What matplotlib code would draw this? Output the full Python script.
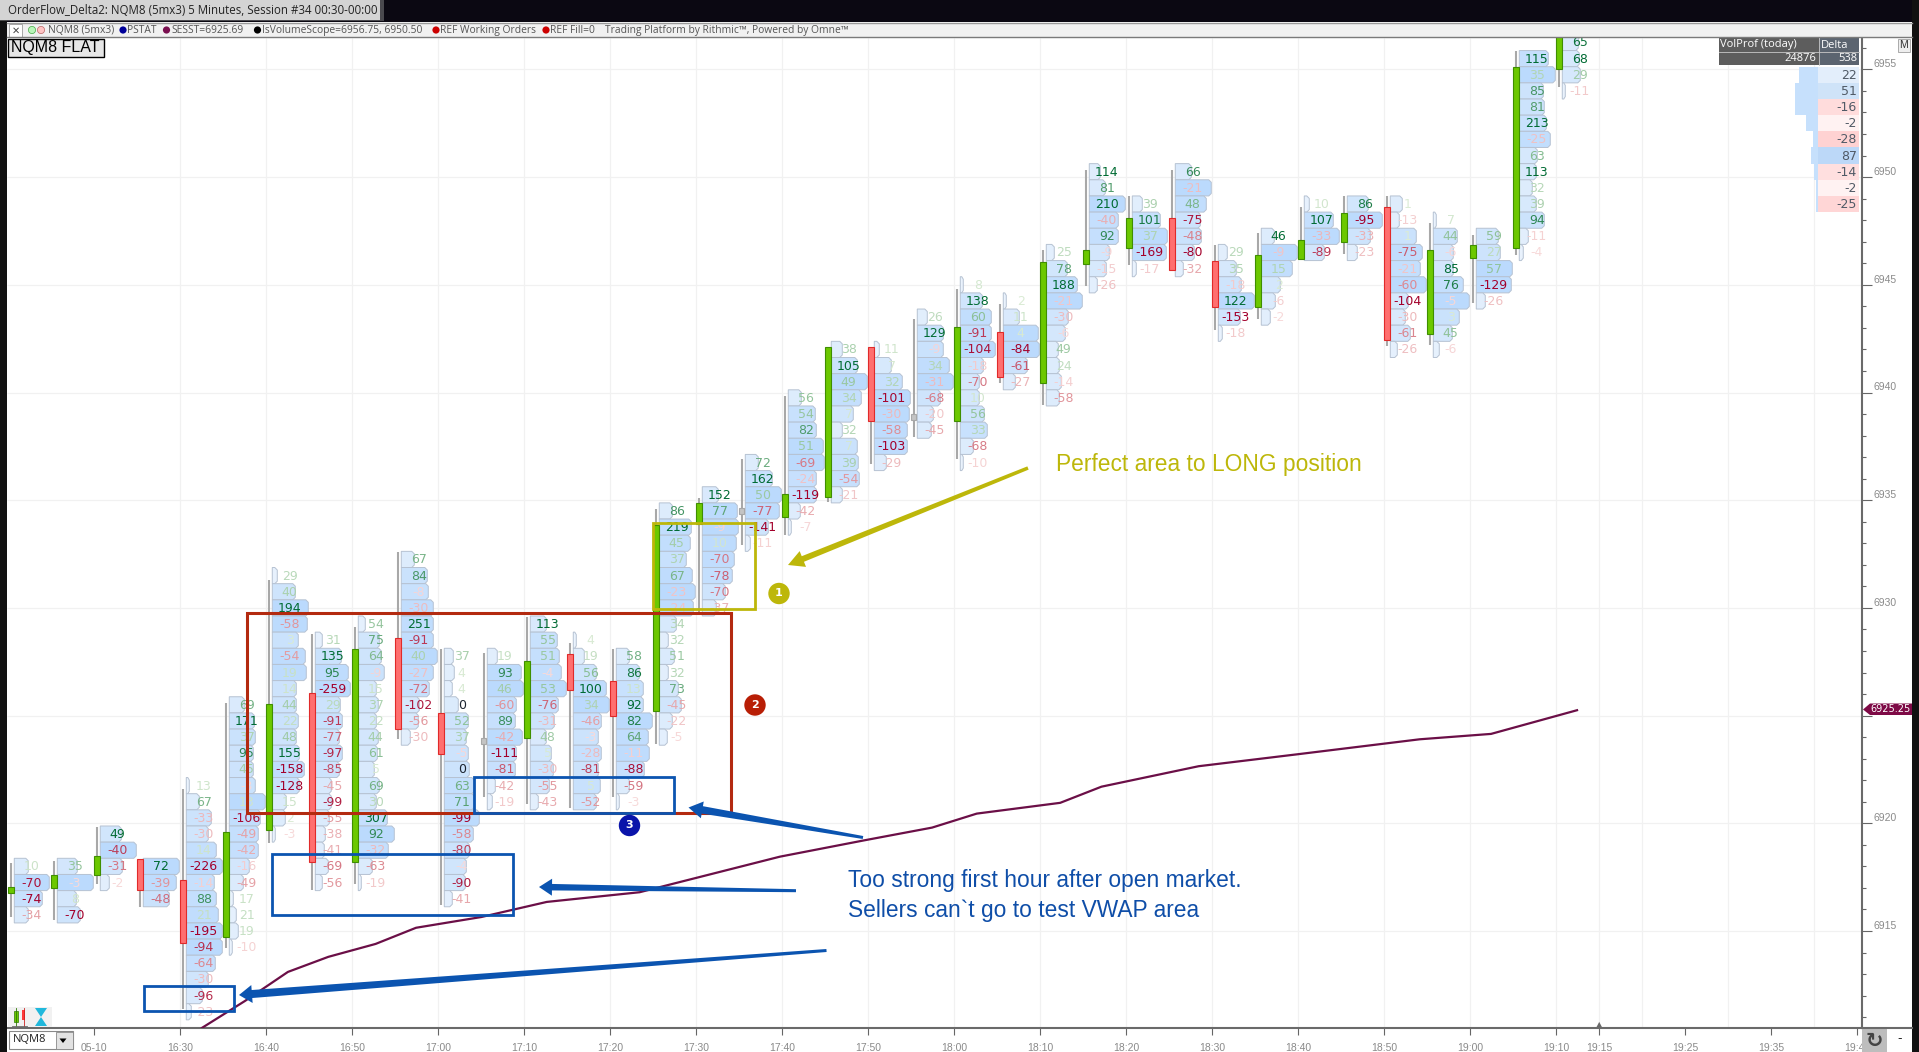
import matplotlib
matplotlib.use('Agg')
import matplotlib.pyplot as plt
from matplotlib.colors import LinearSegmentedColormap
from matplotlib.patches import Rectangle, Circle
import numpy as np

# bar times are minutes since midnight, 16:10 is the first bar
bar_times = [970 + 5 * i for i in range(37)]

bar_top = [6918.0, 6918.0, 6919.5, 6918.0, 6921.75, 6925.5, 6931.5, 6928.5, 6929.25, 6932.25,
           6927.75, 6927.75, 6929.25, 6928.5, 6927.75, 6934.5, 6935.25, 6936.75, 6939.75, 6942.0,
           6942.0, 6943.5, 6945.0, 6944.25, 6946.5, 6950.25, 6948.75, 6950.25, 6946.5, 6947.25,
           6948.75, 6948.75, 6948.75, 6948.0, 6947.25, 6955.5, 6956.25]

bar_open = [6916.75, 6917.0, 6917.6, 6918.35, 6917.35, 6914.7, 6919.7, 6926.05, 6918.2, 6928.6,
            6925.1, 6923.8, 6923.95, 6927.85, 6926.6, 6925.2, 6933.9, 6934.5, 6934.2, 6935.15,
            6942.1, 6938.85, 6938.7, 6942.8, 6940.45, 6945.95, 6946.7, 6948.1, 6946.1, 6943.95,
            6946.2, 6947.0, 6948.6, 6942.7, 6946.25, 6946.7, 6955.0]
bar_close = [6917.05, 6917.6, 6918.5, 6916.9, 6914.45, 6919.6, 6925.55, 6918.2, 6928.1, 6924.4,
             6923.2, 6923.8, 6927.55, 6926.2, 6925.0, 6933.85, 6934.85, 6934.5, 6935.3, 6942.1,
             6938.7, 6938.85, 6943.05, 6940.7, 6946.05, 6946.6, 6948.1, 6945.7, 6943.95, 6946.4,
             6947.1, 6948.35, 6942.45, 6946.6, 6946.85, 6955.1, 6957.5]
bar_high = [6918.15, 6918.25, 6919.85, 6918.35, 6921.6, 6925.6, 6931.3, 6928.8, 6929.1, 6932.6,
            6928.1, 6927.9, 6929.6, 6928.35, 6928.1, 6934.6, 6935.1, 6936.9, 6939.85, 6942.1,
            6942.1, 6943.4, 6944.8, 6944.1, 6946.6, 6950.35, 6949.1, 6950.35, 6946.85, 6947.4,
            6948.6, 6949.1, 6949.1, 6947.85, 6947.3, 6955.85, 6957.5]
bar_low = [6915.65, 6915.5, 6917.2, 6916.1, 6911.4, 6914.2, 6919.1, 6916.9, 6917.2, 6923.9,
           6916.2, 6921.2, 6920.9, 6920.7, 6921.2, 6923.7, 6929.65, 6932.9, 6933.4, 6934.9,
           6936.7, 6937.95, 6936.9, 6940.45, 6939.4, 6944.95, 6945.9, 6945.7, 6942.9, 6943.4,
           6946.2, 6946.45, 6942.15, 6942.2, 6944.15, 6946.4, 6954.2]

bar_delta = [
    [10, -70, -74, -34],
    [35, -3, 8, -70],
    [49, -40, -31, -2],
    [72, -39, -48],
    [13, 67, -33, -30, 14, -226, -14, 88, 21, -195, -94, -64, -30, -96, -23],
    [69, 171, 37, 95, 45, -3, 13, -106, -49, -42, -16, -49, 17, 21, 19, -10],
    [29, 40, 194, -58, 3, -54, 19, 14, 44, 22, 48, 155, -158, -128, 15, 2, -3],
    [31, 135, 95, -259, 29, -91, -77, -97, -85, -45, -99, -55, -38, -41, -69, -56],
    [54, 75, 64, -9, 15, 37, 22, 44, 61, 5, 69, 30, 307, 92, -32, -63, -19],
    [67, 84, -8, -30, 251, -91, 40, -27, -72, -102, -56, -30],
    [37, 4, 4, 0, 52, 37, -5, 0, 63, 71, -99, -58, -80, -4, -90, -41],
    [19, 93, 46, -60, 89, -42, -111, -81, -42, -19],
    [113, 55, 51, -4, 53, -76, -31, 48, 5, -30, -55, -43],
    [4, 19, 56, 100, 34, -46, -3, -28, -81, 5, -52],
    [58, 86, 13, 92, 82, 64, -11, -88, -59, -3],
    [86, 219, 45, 37, 67, -23, -24, 34, 32, 51, 32, 73, -45, -22, -5],
    [152, 77, -9, 10, -70, -78, -70, -37],
    [72, 162, 50, -77, -141, -11],
    [56, 54, 82, 51, -69, -24, -119, -42, -7],
    [38, 105, 49, 34, 7, 32, 7, 39, -54, -21],
    [11, 7, 32, -101, -30, -58, -103, -29],
    [26, 129, -9, 34, -31, -68, -20, -45],
    [8, 138, 60, -91, -104, -18, -70, 10, 56, 33, -68, -10],
    [2, 11, 4, -84, -61, -27],
    [25, 78, 188, -21, -30, -6, 49, 24, -14, -58],
    [114, 81, 210, -40, 92, -9, -15, -26],
    [39, 101, 37, -169, -17],
    [66, -21, 48, -75, -48, -80, -32],
    [29, 35, -18, 122, -153, -18],
    [46, -9, 15, 2, -6, -2],
    [10, 107, -33, -89],
    [86, -95, -33, -23],
    [1, -13, 1, -75, -21, -60, -104, -30, -61, -26],
    [7, 44, -6, 85, 76, -5, 3, 45, -6],
    [59, 27, 57, -129, -26],
    [115, 35, 85, 81, 213, -25, 63, 113, 32, 39, 94, -11, -4],
    [65, 68, 29, -11],
]

# profile width of every row
bar_vol = [
    [14, 35, 28, 14],
    [20, 36, 19, 23],
    [21, 36, 22, 9],
    [36, 33, 26],
    [3, 13, 25, 22, 30, 36, 28, 30, 32, 36, 36, 29, 22, 16, 5],
    [15, 25, 26, 24, 24, 26, 36, 31, 29, 29, 20, 14, 4, 7, 9, 3],
    [5, 23, 36, 35, 26, 33, 34, 24, 24, 26, 24, 27, 32, 27, 14, 13, 3],
    [7, 26, 33, 35, 25, 27, 24, 27, 24, 16, 16, 14, 10, 9, 13, 7],
    [7, 21, 23, 26, 18, 20, 18, 20, 19, 16, 21, 18, 29, 36, 30, 14, 3],
    [13, 26, 27, 32, 32, 32, 36, 32, 28, 18, 17, 9],
    [9, 10, 8, 14, 24, 22, 24, 25, 30, 30, 35, 29, 25, 22, 21, 8],
    [10, 34, 36, 29, 28, 35, 29, 28, 8, 5],
    [16, 27, 29, 31, 36, 28, 24, 16, 21, 23, 19, 8],
    [3, 11, 23, 33, 36, 28, 25, 28, 25, 27, 23],
    [13, 23, 27, 27, 36, 32, 33, 28, 13, 3],
    [13, 32, 31, 27, 33, 36, 34, 17, 9, 15, 9, 19, 22, 13, 8],
    [16, 35, 36, 34, 32, 30, 23, 14],
    [13, 27, 36, 34, 23, 5],
    [13, 27, 28, 35, 36, 28, 28, 12, 3],
    [11, 26, 36, 30, 22, 11, 26, 27, 28, 11],
    [5, 17, 28, 36, 35, 33, 33, 12],
    [10, 26, 26, 32, 36, 23, 16, 14],
    [3, 22, 31, 31, 35, 23, 19, 19, 24, 27, 13, 3],
    [3, 16, 35, 36, 24, 12],
    [8, 21, 31, 36, 22, 19, 12, 13, 15, 13],
    [11, 16, 36, 29, 29, 20, 17, 8],
    [10, 28, 35, 34, 4],
    [16, 36, 31, 25, 26, 19, 8],
    [9, 18, 23, 36, 22, 4],
    [13, 36, 31, 19, 14, 9],
    [5, 29, 35, 20],
    [21, 35, 23, 10],
    [12, 9, 26, 32, 30, 36, 18, 15, 20, 7],
    [3, 24, 20, 20, 30, 36, 26, 19, 6],
    [22, 24, 36, 35, 9],
    [29, 36, 24, 25, 27, 31, 18, 17, 13, 17, 25, 9, 4],
    [16, 17, 18, 3],
]

vwap_time = [992.5, 997.5, 1002.5, 1007.2, 1012.7, 1017.4, 1025.0, 1032.6, 1043.4, 1059.7, 1069.4,
             1077.4, 1082.6, 1092.3, 1097.1, 1108.4, 1119.8, 1134.1, 1142.4, 1152.4]
vwap_price = [6910.5, 6911.75, 6913.1, 6913.8, 6914.4, 6915.15, 6915.65, 6916.35, 6916.8, 6918.45,
              6919.2, 6919.8, 6920.45, 6920.95, 6921.7, 6922.65, 6923.2, 6923.9, 6924.15, 6925.25]

profile_price = [6954.75, 6954.0, 6953.25, 6952.5, 6951.75, 6951.0, 6950.25, 6949.5, 6948.75]
profile_delta = [22, 51, -16, -2, -28, 87, -14, -2, -25]
profile_vol = [19, 23, 23, 12, 5, 7, 4, 2, 1.5]
profile_colors = ['#e3eefb', '#cfe3f8', '#ffdcdc', '#fff2f2', '#ffd2d2', '#bcd8f8', '#ffdfdf', '#fff2f2', '#ffd6d6']

tick_times = [980, 990, 1000, 1010, 1020, 1030, 1040, 1050, 1060, 1070, 1080, 1090, 1100, 1110, 1120,
              1130, 1140, 1150, 1155, 1165, 1175, 1185]
tick_labels = ['05-10', '16:30', '16:40', '16:50', '17:00', '17:10', '17:20', '17:30', '17:40', '17:50',
               '18:00', '18:10', '18:20', '18:30', '18:40', '18:50', '19:00', '19:10', '19:15', '19:25',
               '19:35', '19:45']
grid_times = [990, 1000, 1010, 1020, 1030, 1040, 1050, 1060, 1070, 1080, 1090, 1100, 1110, 1120, 1130,
              1140, 1150, 1155, 1160, 1170, 1180]
price_major = [6915, 6920, 6925, 6930, 6935, 6940, 6945, 6950, 6955]

W, H = 1919, 1052
PX_MIN = 8.6     # pixels per minute
PX_PRICE = 21.54 # pixels per point
ROW = 0.75
LEFT, RIGHT, TOP, BOTTOM = 7, 1861.5, 37.5, 1028


def minutes(px):
    return px / PX_MIN


def points(px):
    return px / PX_PRICE


plt.rcParams['font.family'] = ['DejaVu Sans']
fig = plt.figure(figsize=(W / 100, H / 100), dpi=100, facecolor='white')
ax = fig.add_axes([LEFT / W, 1 - BOTTOM / H, (RIGHT - LEFT) / W, (BOTTOM - TOP) / H])
ax.set_xlim(990 + (LEFT - 180.4) / PX_MIN, 990 + (RIGHT - 180.4) / PX_MIN)
ax.set_ylim(6915 + (931 - BOTTOM) / PX_PRICE, 6915 + (931 - TOP) / PX_PRICE)

for s in ['top', 'left']:
    ax.spines[s].set_visible(False)
for s in ['bottom', 'right']:
    ax.spines[s].set_color('#6a6a6a')
    ax.spines[s].set_linewidth(1.5)

# axes
ax.yaxis.tick_right()
ax.set_yticks(price_major)
ax.set_yticklabels([str(p) for p in price_major], fontsize=7.5, color='#8a8a8a', family='Liberation Sans', va='bottom')
ax.set_yticks(np.arange(6911, 6957), minor=True)
ax.tick_params(axis='y', which='major', length=7, width=0.8, color='#666666', pad=1.5)
ax.tick_params(axis='y', which='minor', length=3, width=0.8, color='#666666')
ax.set_xticks(tick_times)
ax.set_xticklabels(tick_labels, fontsize=7.5, color='#8a8a8a', family='Liberation Sans')
ax.tick_params(axis='x', length=5, width=0.8, color='#666666', pad=6)

ax.vlines(grid_times, *ax.get_ylim(), color='#f1f1f1', lw=0.9, zorder=0)
ax.hlines(price_major, *ax.get_xlim(), color='#f1f1f1', lw=0.9, zorder=0)

box_cmap = LinearSegmentedColormap.from_list('box', ['#eef5fd', '#d6e8fc', '#bbdafd'])
green_cmap = LinearSegmentedColormap.from_list('g', ['#dcecd6', '#8cc096', '#006b33'])
red_cmap = LinearSegmentedColormap.from_list('r', ['#f8dcdc', '#e09298', '#a3002b'])


def text_color(v, bar_max):
    if v == 0:
        return '#1c2430'
    r = min(abs(v) / min(bar_max, 110), 1) ** 1.15
    return green_cmap(r) if v > 0 else red_cmap(r)


# footprint bars
for i, t0 in enumerate(bar_times):
    t = t0 + 0.3
    rows = bar_delta[i]
    vols = bar_vol[i]
    bar_max = max(abs(v) for v in rows)
    left = t + minutes(3.3)
    for j, (v, w) in enumerate(zip(rows, vols)):
        p = bar_top[i] - j * ROW
        r = left + minutes(w)
        c = minutes(min(2.5, w / 2))
        d = points(2.5)
        xs = [left, r - c, r, r, r - c, left]
        ys = [p + ROW / 2, p + ROW / 2, p + ROW / 2 - d, p - ROW / 2 + d, p - ROW / 2, p - ROW / 2]
        ax.fill(xs, ys, facecolor=box_cmap(w / 36), edgecolor='#b6c2d2', lw=0.7, zorder=2)
    for j, v in enumerate(rows):
        p = bar_top[i] - j * ROW
        ax.text(t + minutes(20.7), p - points(0.5), str(v), ha='center', va='center', fontsize=9,
                color=text_color(v, bar_max), zorder=3, clip_on=True)
    ax.plot([t, t], [bar_low[i], bar_high[i]], color='#a8a8a8', lw=1.5, solid_capstyle='butt', zorder=4)
    lo, hi = sorted([bar_open[i], bar_close[i]])
    if lo == hi:
        ax.add_patch(Rectangle((t - minutes(2.5), lo - points(3)), minutes(5), points(6), facecolor='#c4c4c4',
                               edgecolor='#a8a8a8', lw=0.8, zorder=5))
    elif bar_close[i] > bar_open[i]:
        ax.add_patch(Rectangle((t - minutes(2.7), lo), minutes(5.4), hi - lo, facecolor='#6cc800',
                               edgecolor='#3f8f00', lw=0.8, zorder=5))
    else:
        ax.add_patch(Rectangle((t - minutes(2.7), lo), minutes(5.4), hi - lo, facecolor='#ff6f6f',
                               edgecolor='#e02a2a', lw=0.8, zorder=5))

ax.plot(vwap_time, vwap_price, color='#6b0f47', lw=1.6, zorder=6)

# today's profile and its delta column
x_split = ax.get_xlim()[1] - minutes(43.5)
x_end = ax.get_xlim()[1] - minutes(2.5)
ax.barh(profile_price, [minutes(v) for v in profile_vol], height=ROW, left=[x_split - minutes(v) for v in profile_vol],
        color='#c6e0fc', zorder=2)
ax.barh(profile_price, x_end - x_split, height=ROW, left=x_split, color=profile_colors, zorder=2)
for p, v in zip(profile_price, profile_delta):
    ax.text(x_end - minutes(2), p - points(0.5), str(v), ha='right', va='center', fontsize=9, color='#505a66', zorder=3)

ax.text(1155, ax.get_ylim()[0] + points(3.5), '\u25b2', ha='center', va='center', fontsize=6, color='#6a6a6a', zorder=6)

# everything below sits on a pixel overlay: window chrome and hand drawn marks
ov = fig.add_axes([0, 0, 1, 1], zorder=10)
ov.set_xlim(0, W)
ov.set_ylim(H, 0)
ov.axis('off')
ov.patch.set_alpha(0)


def box(x0, y0, x1, y1, **kw):
    ov.add_patch(Rectangle((x0, y0), x1 - x0, y1 - y0, **kw))


def arrow(x0, y0, x1, y1, w_tail, w_neck, head_w, head_len, color):
    d = np.array([x1 - x0, y1 - y0], dtype=float)
    d /= np.hypot(*d)
    n = np.array([-d[1], d[0]])
    a = np.array([x0, y0])
    tip = np.array([x1, y1])
    neck = tip - d * head_len
    pts = [a + n * w_tail / 2, neck + n * w_neck / 2, neck + n * head_w / 2, tip,
           neck - n * head_w / 2, neck - n * w_neck / 2, a - n * w_tail / 2]
    ov.fill([q[0] for q in pts], [q[1] for q in pts], color=color, lw=0)


# frame
box(0, 0, W, 22, facecolor='#0b0812', lw=0)
box(0, 0, 7, H, facecolor='#111111', lw=0)
box(1912, 0, W, H, facecolor='#111111', lw=0)
box(0, 0, 384, 21, facecolor='#8a8a8a', lw=0, alpha=0.5)
box(0, 0, 380, 19.5, facecolor='#d4d4d4', lw=0)
ov.text(8, 10.5, 'OrderFlow_Delta2: NQM8 (5mx3) 5 Minutes, Session #34 00:30-00:00', fontsize=8.3,
        family='Open Sans', color='#222222', va='center')

# toolbar
box(7, 23, 1912, 37, facecolor='#f1f1f1', lw=0)
ov.plot([7, 1912], [37, 37], color='#7a7a7a', lw=1)
ov.plot([7, 1912], [22.5, 22.5], color='#9a9a9a', lw=1)
box(9, 24, 22, 36.5, facecolor='white', edgecolor='#9a9a9a', lw=0.6)
ov.text(15.5, 30.5, '\u2715', fontsize=7, ha='center', va='center', color='#444444')
for cx, col, ec in [(32, '#b9f5b9', '#44aa44'), (41, '#ffc4c4', '#bb6666')]:
    ov.add_patch(Circle((cx, 30), 3.6, facecolor=col, edgecolor=ec, lw=0.5))
for cx, col in [(123, '#000099'), (166.5, '#7a0f50'), (257.5, '#000000'), (436, '#cc0000'), (546, '#cc0000')]:
    ov.add_patch(Circle((cx, 30), 3.6, facecolor=col, lw=0))
for tx, s in [(48, 'NQM8 (5mx3)'), (127, 'PSTAT'), (171, 'SESST=6925.69'), (262.4, 'IsVolumeScope=6956.75, 6950.50'),
              (440, 'REF Working Orders'), (550, 'REF Fill=0'),
              (605, 'Trading Platform by Rithmic\u2122, Powered by Omne\u2122')]:
    ov.text(tx, 30.5, s, fontsize=7.4, family='Open Sans', color='#555555', va='center')

box(8, 38.5, 103.5, 56.5, facecolor='#e6e6e6', edgecolor='black', lw=1)
ov.text(55.7, 47.5, 'NQM8 FLAT', fontsize=11.5, family='Liberation Sans', color='black', ha='center', va='center')

# profile header
box(1718.5, 37.5, 1818.5, 64.5, facecolor='#5d5d5d', lw=0)
box(1819, 37.5, 1859, 64.5, facecolor='#5b6470', lw=0)
ov.plot([1718.5, 1859], [51.5, 51.5], color='#c8c8c8', lw=0.6)
ov.plot([1818.7, 1818.7], [37.5, 64.5], color='#c8c8c8', lw=0.6)
ov.text(1720.5, 45, 'VolProf (today)', fontsize=8, family='Open Sans', color='white', va='center')
ov.text(1820.5, 45, 'Delta', fontsize=8, family='Open Sans', color='white', va='center')
ov.text(1816.5, 58.5, '24876', fontsize=8, family='Open Sans', color='white', va='center', ha='right')
ov.text(1857, 58.5, '538', fontsize=8, family='Open Sans', color='white', va='center', ha='right')
box(1898, 38.5, 1910, 51.5, facecolor='#eeeeee', edgecolor='#aaaaaa', lw=0.7)
ov.text(1904, 45, 'M', fontsize=7.5, family='Liberation Sans', color='#333333', ha='center', va='center')

# last price tag
ov.fill([1863, 1870, 1912, 1912, 1870], [709.5, 703.5, 703.5, 715, 715], color='#7e0a46', lw=0)
ov.text(1890.5, 709.5, '6925.25', fontsize=7, family='DejaVu Sans', color='white', ha='center', va='center')

# bottom strip
ov.plot([RIGHT, 1912], [1028, 1028], color='#6a6a6a', lw=1.5)
box(9, 1031, 72.5, 1049, facecolor='white', edgecolor='#888888', lw=0.8)
box(56, 1031.5, 72.5, 1048.5, facecolor='#e2e2e2', edgecolor='#888888', lw=0.6)
ov.fill([59.5, 66.5, 63], [1038.5, 1038.5, 1043], color='black', lw=0)
ov.text(13, 1040, 'NQM8', fontsize=8, family='Open Sans', color='#222222', va='center')
box(RIGHT, 1029, 1887, H, facecolor='#bdbdbd', lw=0)
ov.text(1874, 1041, '\u21bb', fontsize=15, fontweight='bold', color='#444444', ha='center', va='center')
ov.text(1900, 1039, '-', fontsize=9, color='#222222', ha='center', va='center')

# chart type and timer icons
box(8, 1006.5, 52, 1027, facecolor='#f1f1f1', lw=0)
box(14, 1011, 18, 1022, facecolor='#6cc800', edgecolor='#2c7a00', lw=0.5)
ov.plot([16, 16], [1008, 1026], color='#2c7a00', lw=0.6)
box(22, 1010, 25, 1020, facecolor='#ff3a3a', lw=0)
ov.plot([23.5, 23.5], [1008, 1026], color='#cc2222', lw=0.6)
ov.plot([12, 27], [1026, 1026], color='#666666', lw=0.6)
ov.fill([35, 47, 41], [1008, 1008, 1017], color='#20b8dc', lw=0)
ov.fill([35, 47, 41], [1026, 1026, 1017], color='#20b8dc', lw=0)

# study marks
GOLD = '#bdb70a'
DARK_RED = '#b32a10'
BLUE = '#0b54b0'
box(652.5, 522.5, 754.5, 608.5, fill=False, edgecolor=GOLD, lw=2)
box(246.5, 612.5, 730.5, 812.5, fill=False, edgecolor=DARK_RED, lw=2.2)
box(473.5, 776.5, 673.5, 812.5, fill=False, edgecolor=BLUE, lw=2)
box(272, 854, 513, 915, fill=False, edgecolor=BLUE, lw=2)
box(143.5, 985.5, 233.5, 1011, fill=False, edgecolor=BLUE, lw=2)

for cx, cy, col, s in [(779, 593.5, GOLD, '1'), (755, 705, '#b81e05', '2'), (629.5, 825.5, '#0a14aa', '3')]:
    ov.add_patch(Circle((cx, cy), 10.7, facecolor=col, lw=0))
    ov.text(cx, cy, s, fontsize=8, fontweight='bold', color='white', ha='center', va='center')

arrow(1028, 468, 788, 565, 3.5, 6, 17, 16, GOLD)
arrow(863, 837.5, 688.5, 807.5, 3, 7.5, 17, 14, BLUE)
arrow(796, 890.7, 539, 887, 3, 6.5, 17, 13, BLUE)
arrow(826.5, 950.5, 239, 995, 3, 8, 18, 13, BLUE)

ov.text(1055.5, 465, 'Perfect area to LONG position', fontsize=16.4, family='Liberation Sans', color=GOLD, va='center')
ov.text(847.5, 881, 'Too strong first hour after open market.', fontsize=16.4, family='Liberation Sans', color='#0f4ea8', va='center')
ov.text(847.5, 910, 'Sellers can`t go to test VWAP area', fontsize=16.4, family='Liberation Sans', color='#0f4ea8', va='center')

fig.savefig('out.png', dpi=100)
